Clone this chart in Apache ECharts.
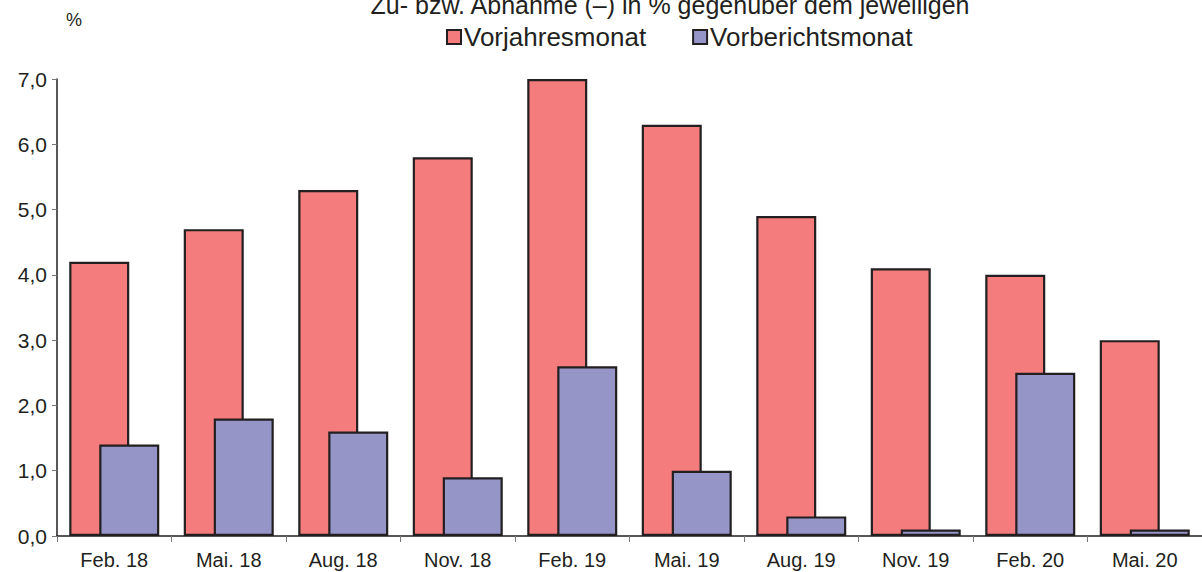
<!DOCTYPE html>
<html>
<head>
<meta charset="utf-8">
<script src="https://cdn.jsdelivr.net/npm/echarts@6/dist/echarts.min.js"></script>
<style>
  html, body { margin: 0; padding: 0; background: #fff; }
  #chart { width: 1202px; height: 572px; }
</style>
</head>
<body>
<div id="chart"></div>
<script>
  // Daten
  var categories = ['Feb. 18', 'Mai. 18', 'Aug. 18', 'Nov. 18', 'Feb. 19', 'Mai. 19', 'Aug. 19', 'Nov. 19', 'Feb. 20', 'Mai. 20'];
  var vorjahresmonat = [4.2, 4.7, 5.3, 5.8, 7.0, 6.3, 4.9, 4.1, 4.0, 3.0];
  var vorberichtsmonat = [1.4, 1.8, 1.6, 0.9, 2.6, 1.0, 0.3, 0.1, 2.5, 0.1];
  var yTicks = [0, 1, 2, 3, 4, 5, 6, 7];

  var fontFamily = 'Liberation Sans, Arial, sans-serif';

  var chart = echarts.init(document.getElementById('chart'), null, { renderer: 'svg' });

  var option = {
    animation: false,
    backgroundColor: '#ffffff',
    textStyle: { fontFamily: fontFamily, color: '#231f20' },
    graphic: [
      {
        type: 'text',
        x: 670,
        y: 17,
        style: {
          text: 'Zu- bzw. Abnahme (–) in % gegenüber dem jeweiligen',
          fontSize: 25,
          fontFamily: fontFamily,
          fill: '#231f20',
          textAlign: 'center',
          textVerticalAlign: 'bottom'
        }
      },
      {
        type: 'text',
        x: 74,
        y: 20,
        style: {
          text: '%',
          fontSize: 18,
          fontFamily: fontFamily,
          fill: '#231f20',
          textAlign: 'center',
          textVerticalAlign: 'middle'
        }
      }
    ],
    legend: {
      left: 441,
      top: 19,
      icon: 'rect',
      itemWidth: 14,
      itemHeight: 14,
      itemGap: 46,
      textStyle: { fontSize: 26, fontFamily: fontFamily, color: '#231f20', padding: [0, 0, 0, -2] },
      data: ['Vorjahresmonat', 'Vorberichtsmonat']
    },
    grid: {
      left: 57,
      right: 0,
      top: 79,
      bottom: 36,
      containLabel: false
    },
    xAxis: {
      type: 'category',
      data: categories,
      axisLine: { lineStyle: { color: '#231f20', width: 1.5 } },
      axisTick: { show: true, length: 6, lineStyle: { color: '#777777', width: 1 } },
      axisLabel: { fontSize: 20, color: '#231f20', margin: 14, fontFamily: fontFamily }
    },
    yAxis: {
      type: 'value',
      min: yTicks[0],
      max: yTicks[yTicks.length - 1],
      interval: 1,
      axisLine: { show: true, lineStyle: { color: '#231f20', width: 1.5 } },
      axisTick: { show: true, length: 5, lineStyle: { color: '#777777', width: 1 } },
      splitLine: { show: false },
      axisLabel: {
        fontSize: 21,
        color: '#231f20',
        margin: 10,
        fontFamily: fontFamily,
        formatter: function (v) { return v.toFixed(1).replace('.', ','); }
      }
    },
    series: [
      {
        name: 'Vorjahresmonat',
        type: 'bar',
        data: vorjahresmonat,
        barWidth: 60,
        barGap: '-50%',
        itemStyle: { color: '#f47c7c', borderColor: '#231f20', borderWidth: 2.2 }
      },
      {
        name: 'Vorberichtsmonat',
        type: 'bar',
        data: vorberichtsmonat,
        barWidth: 60,
        itemStyle: { color: '#9595c8', borderColor: '#231f20', borderWidth: 2.2 }
      }
    ]
  };

  chart.setOption(option);
</script>
</body>
</html>
